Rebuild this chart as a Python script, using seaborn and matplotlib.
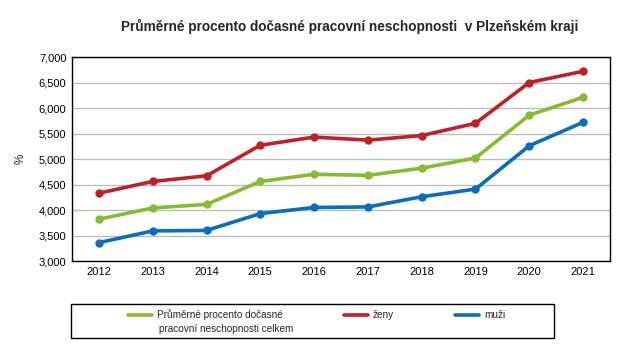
import matplotlib
matplotlib.use("Agg")
import matplotlib.pyplot as plt
import seaborn as sns
import pandas as pd
from matplotlib.patches import Rectangle
from matplotlib.ticker import FuncFormatter, FixedLocator

years = ["2012", "2013", "2014", "2015", "2016", "2017", "2018", "2019", "2020", "2021"]
celkem = [3.82, 4.04, 4.11, 4.56, 4.70, 4.68, 4.82, 5.02, 5.86, 6.21]
zeny = [4.33, 4.56, 4.67, 5.27, 5.43, 5.37, 5.46, 5.70, 6.50, 6.72]
muzi = [3.36, 3.59, 3.60, 3.93, 4.05, 4.06, 4.26, 4.41, 5.26, 5.72]

series_names = ["Průměrné procento dočasné", "ženy", "muži"]
label_second_line = "pracovní neschopnosti celkem"
colors = ["#86BC2F", "#C0202A", "#0A6EBD"]

df = pd.concat([
    pd.DataFrame({"rok": years, "hodnota": vals, "serie": name})
    for name, vals in zip(series_names, [celkem, zeny, muzi])
])

sns.set_style("white")
plt.rcParams["font.family"] = ["Liberation Sans", "DejaVu Sans"]

fig = plt.figure(figsize=(6.39, 3.51), dpi=100)
ax = fig.add_axes([0.1127, 0.2564, 0.8419, 0.5812])

sns.lineplot(data=df, x="rok", y="hodnota", hue="serie", hue_order=series_names,
             palette=colors, marker="o", markersize=6, markeredgewidth=0,
             linewidth=2.6, ax=ax, legend=True, sort=False)

ax.set_xlim(-0.5, len(years) - 0.5)
ax.set_ylim(3.0, 7.0)
ax.set_yticks([3.0 + 0.5 * i for i in range(9)])
ax.yaxis.set_major_formatter(FuncFormatter(lambda v, p: f"{v:.3f}".replace(".", ",")))
ax.yaxis.grid(True, color="#BDBDBD", linewidth=1)
ax.set_axisbelow(True)
ax.set_xlabel("")
ax.set_ylabel("%", fontsize=8.5, labelpad=9)
ax.tick_params(axis="both", labelsize=8, colors="black", length=0, pad=4)
ax.xaxis.set_minor_locator(FixedLocator([i - 0.5 for i in range(len(years) + 1)]))
ax.tick_params(axis="x", which="minor", length=4, width=1, color="black", direction="out")
for sp in ax.spines.values():
    sp.set_color("black")
    sp.set_linewidth(1)

fig.suptitle("Průměrné procento dočasné pracovní neschopnosti  v Plzeňském kraji",
             x=0.548, y=0.945, fontsize=9.8, fontweight="bold")

# legend box (Excel style) and entries
fig.patches.append(Rectangle((71 / 639, 1 - 338 / 351), 483 / 639, 34 / 351,
                             transform=fig.transFigure, fill=False,
                             edgecolor="black", linewidth=1))
handles, labels = ax.get_legend_handles_labels()
ax.get_legend().remove()
leg = fig.legend(handles, labels, loc="center left", bbox_to_anchor=(128 / 639, 1 - 315 / 351),
                 ncol=3, fontsize=7.2, frameon=False, handlelength=2.4,
                 handletextpad=0.5, columnspacing=6.1, borderaxespad=0, borderpad=0)
for line in leg.get_lines():
    line.set_marker("")
fig.text(159 / 639, 1 - 329 / 351, label_second_line, fontsize=7.2,
         ha="left", va="center")

fig.savefig("out.png", dpi=100)
